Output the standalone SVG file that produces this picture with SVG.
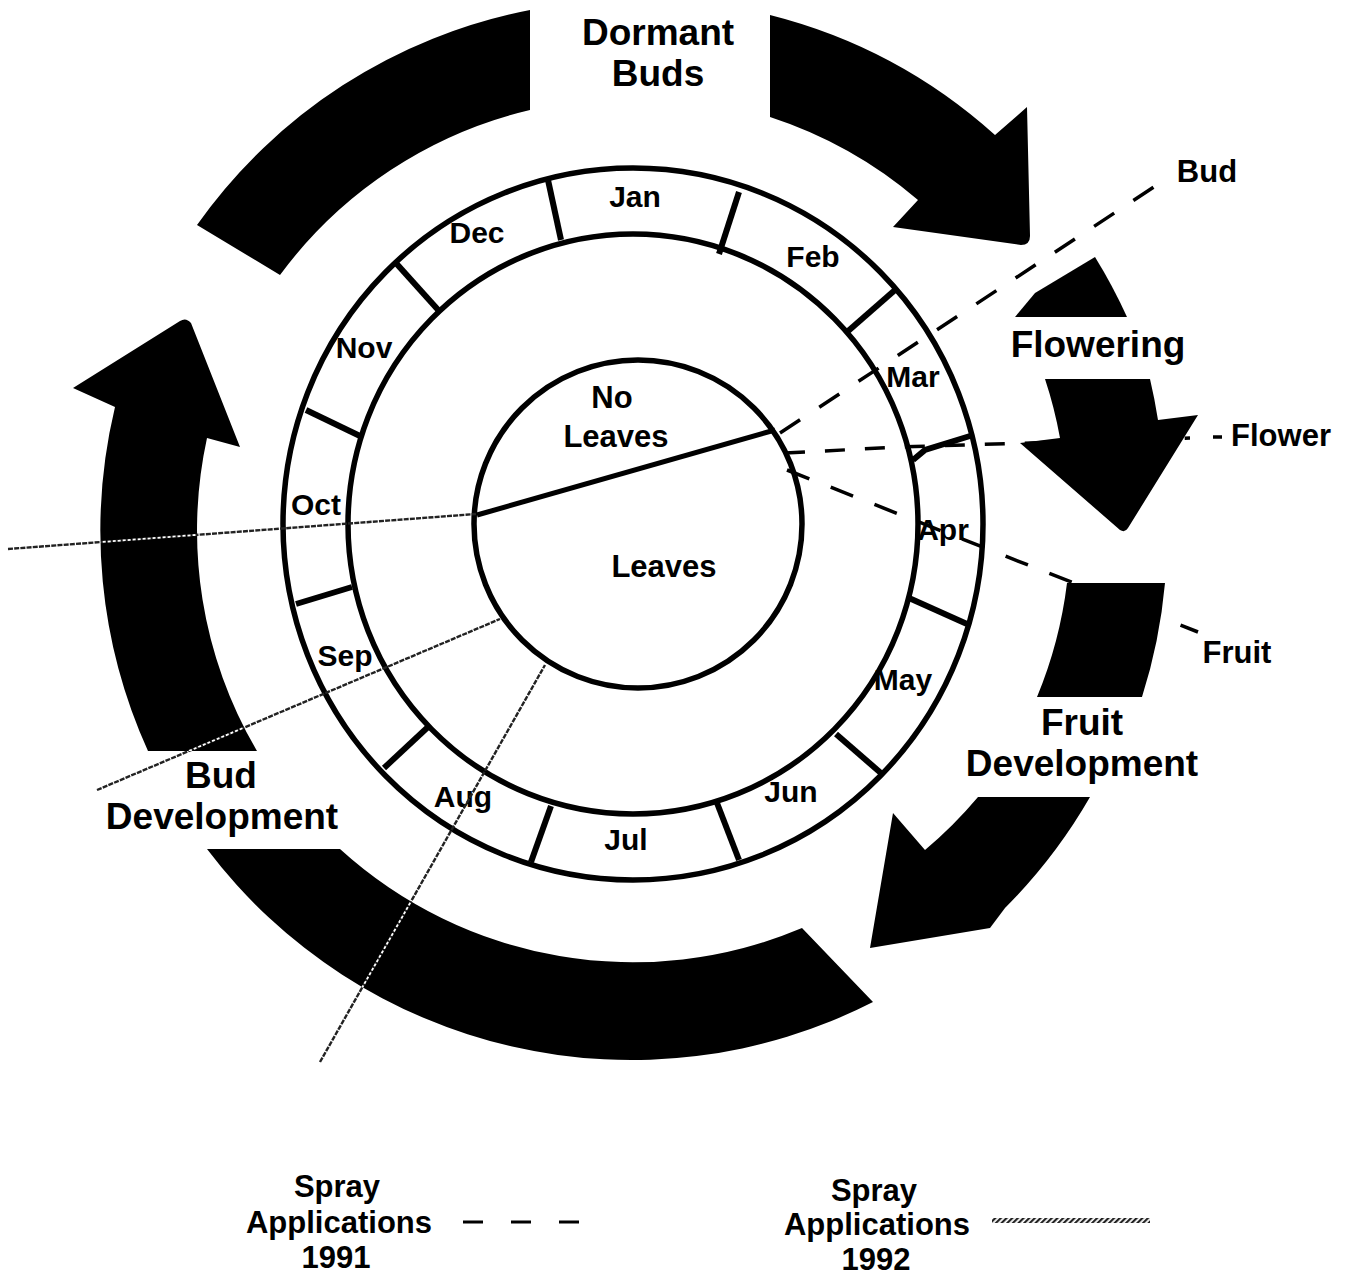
<svg xmlns="http://www.w3.org/2000/svg" xmlns:xlink="http://www.w3.org/1999/xlink" width="1348" height="1278" viewBox="0 0 1348 1278">
<style>
text{font-family:"Liberation Sans",Arial,Helvetica,sans-serif;font-weight:bold;fill:#000;text-anchor:middle}
.big{font-size:37px}
.mid{font-size:31px}
.mon{font-size:30px}
.arrow{fill:#000;stroke:none}
.ring{fill:none;stroke:#000;stroke-width:5.5}
.tick{stroke:#000;stroke-width:6;stroke-linecap:butt}
.s91{fill:none;stroke:#000;stroke-width:3.5;stroke-dasharray:24 23}
.s92{fill:none;stroke:#222;stroke-width:2.4;stroke-dasharray:5 1.2}
.s92w{fill:none;stroke:#fff;stroke-width:1.8;stroke-dasharray:3 2}
</style>
<defs>
<pattern id="hatch" width="4" height="4" patternUnits="userSpaceOnUse" patternTransform="rotate(45)">
<rect width="2.2" height="4" fill="#222"/>
</pattern>
<clipPath id="arrowClip">
<use xlink:href="#arrow-dormant-left"/>
<use xlink:href="#arrow-budup"/>
<use xlink:href="#arrow-bottom"/>
</clipPath>
</defs>
<rect width="1348" height="1278" fill="#fff"/>

<g id="stage-dormant">
<path id="arrow-dormant-left" class="arrow" d="M197,225 A532,532 0 0 1 530,10 L530,110 A435,435 0 0 0 280,275 Z"/>
<path id="arrow-dormant-right" class="arrow" d="M770,15 A532,532 0 0 1 995,135 L1027,107 L1030,236 Q1030,245 1021,245 L893,227 L918,200 A435,435 0 0 0 770,117 Z"/>
<text class="big" x="658" y="45">Dormant</text>
<text class="big" x="658" y="86">Buds</text>
</g>

<g id="stage-flowering">
<path id="arrow-flowering-top" class="arrow" d="M1015,317 L1035,293 L1095,257 A532,532 0 0 1 1127,317 Z"/>
<path id="arrow-flowering-bottom" class="arrow" d="M1045,379 L1150,379 A532,532 0 0 1 1158,420 L1198,415 L1128,528 Q1125,533 1120,530 L1020,443 L1060,438 A435,435 0 0 0 1045,379 Z"/>
<text class="big" x="1098" y="357">Flowering</text>
</g>

<g id="stage-fruit">
<path id="arrow-fruit-top" class="arrow" d="M1067,583 L1165,583 A532,532 0 0 1 1142,697 L1037,697 A435,435 0 0 0 1067,583 Z"/>
<path id="arrow-fruit-bottom" class="arrow" d="M978,797 L1090,797 A532,532 0 0 1 1005,908 L990,928 L870,948 L893,813 L925,850 A435,435 0 0 0 978,797 Z"/>
<text class="big" x="1082" y="735">Fruit</text>
<text class="big" x="1082" y="776">Development</text>
</g>

<g id="stage-bud-development">
<path id="arrow-bottom" class="arrow" d="M802,928 L873,1002 A532,532 0 0 1 207,849 L340,849 A435,435 0 0 0 802,928 Z"/>
<path id="arrow-budup" class="arrow" d="M148,751 A532,532 0 0 1 115,407 L73,388 L180,321 Q186,317 191,323 L240,447 L207,438 A435,435 0 0 0 257,751 Z"/>
<text class="big" x="221" y="788">Bud</text>
<text class="big" x="222" y="829">Development</text>
</g>

<g id="month-ring">
<ellipse class="ring" cx="633" cy="524" rx="350" ry="356"/>
<ellipse class="ring" cx="633" cy="524" rx="285" ry="290"/>
<line class="tick" x1="548" y1="180" x2="561" y2="240"/>
<line class="tick" x1="739" y1="192" x2="719" y2="254"/>
<line class="tick" x1="895" y1="290" x2="847" y2="332"/>
<polyline class="tick" fill="none" points="970,436 925,450 913,460"/>
<line class="tick" x1="967" y1="624" x2="909" y2="598"/>
<line class="tick" x1="882" y1="774" x2="836" y2="734"/>
<line class="tick" x1="739" y1="860" x2="717" y2="803"/>
<line class="tick" x1="531" y1="862" x2="551" y2="806"/>
<line class="tick" x1="384" y1="768" x2="428" y2="727"/>
<line class="tick" x1="296" y1="604" x2="352" y2="587"/>
<line class="tick" x1="306" y1="410" x2="360" y2="436"/>
<line class="tick" x1="395" y1="262" x2="440" y2="312"/>
<text class="mon" x="635" y="207">Jan</text>
<text class="mon" x="813" y="267">Feb</text>
<text class="mon" x="913" y="387">Mar</text>
<text class="mon" x="943" y="540">Apr</text>
<text class="mon" x="903" y="690">May</text>
<text class="mon" x="791" y="802">Jun</text>
<text class="mon" x="626" y="850">Jul</text>
<text class="mon" x="463" y="807">Aug</text>
<text class="mon" x="345" y="666">Sep</text>
<text class="mon" x="316" y="515">Oct</text>
<text class="mon" x="364" y="358">Nov</text>
<text class="mon" x="477" y="243">Dec</text>
</g>

<g id="leaves-circle">
<circle class="ring" cx="638" cy="524" r="164"/>
<line x1="477" y1="515" x2="775" y2="430" stroke="#000" stroke-width="5"/>
<text class="mid" x="612" y="408">No</text>
<text class="mid" x="616" y="447">Leaves</text>
<text class="mid" x="664" y="577">Leaves</text>
</g>

<g id="connectors">
<line class="s91" x1="780" y1="433" x2="1160" y2="183"/>
<polyline class="s91" style="stroke-dasharray:20 20" points="785,453 900,447 1190,438"/>
<line x1="1213" y1="437" x2="1222" y2="437" stroke="#000" stroke-width="3.5"/>
<line class="s91" x1="787" y1="470" x2="1198" y2="632"/>
<line class="s92" x1="8" y1="549" x2="476" y2="514"/>
<line class="s92" x1="97" y1="790" x2="500" y2="619"/>
<line class="s92" x1="320" y1="1062" x2="545" y2="665"/>
<g clip-path="url(#arrowClip)">
<line class="s92w" x1="8" y1="549" x2="476" y2="514"/>
<line class="s92w" x1="97" y1="790" x2="500" y2="619"/>
<line class="s92w" x1="320" y1="1062" x2="545" y2="665"/>
</g>
</g>

<g id="spray-labels">
<text class="mid" x="1207" y="182">Bud</text>
<text class="mid" x="1281" y="446">Flower</text>
<text class="mid" x="1237" y="663">Fruit</text>
</g>

<g id="legend-1991">
<text class="mid" x="337" y="1197">Spray</text>
<text class="mid" x="339" y="1233">Applications</text>
<text class="mid" x="336" y="1268">1991</text>
<line x1="463" y1="1222" x2="585" y2="1222" stroke="#000" stroke-width="3" stroke-dasharray="20 28"/>
</g>

<g id="legend-1992">
<text class="mid" x="874" y="1201">Spray</text>
<text class="mid" x="877" y="1235">Applications</text>
<text class="mid" x="876" y="1270">1992</text>
<rect x="992" y="1218" width="158" height="5" fill="url(#hatch)"/>
</g>
</svg>
